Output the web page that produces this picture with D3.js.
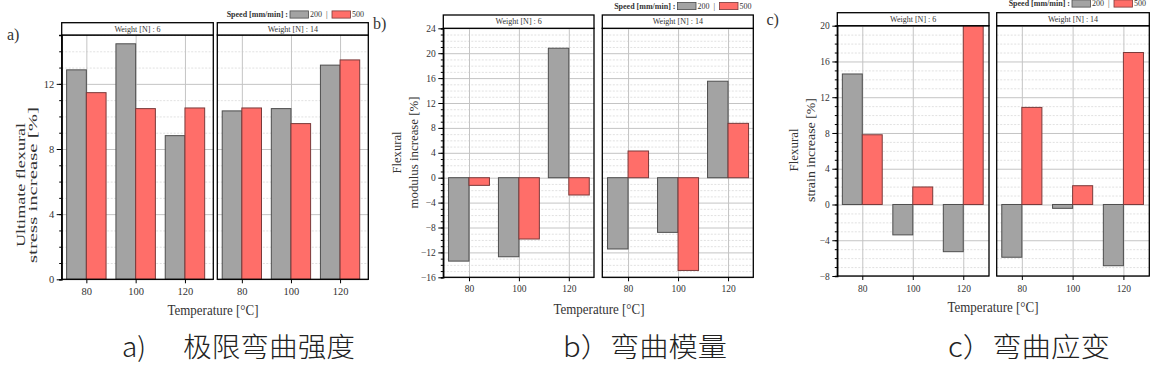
<!DOCTYPE html>
<html>
<head>
<meta charset="utf-8">
<title>Flexural results</title>
<script src="https://cdn.jsdelivr.net/npm/d3@7"></script>
<style>
  body { margin: 0; background: #fff; }
  svg text { font-family: "Liberation Serif", "Times New Roman", serif; fill: #333; }
  .axis path { stroke: #000; stroke-width: 1.3; }
  .axis line { stroke: #000; }
  .axis text { fill: #333; font-family: "Liberation Serif", serif; }
  .major line { stroke: #c4c4c4; stroke-width: 1; }
  .minor line { stroke: #d9d9d9; stroke-width: 0.8; stroke-dasharray: 2,1.5; }
  .caption { font-family: "Noto Sans CJK SC", sans-serif !important; font-weight: 300; fill: #222 !important; }
</style>
</head>
<body>
<script>
// data
var temps = [80, 100, 120];
var weights = ["6", "14"];
var speeds = ["200", "500"];

var stress6_200 = [12.86, 14.46, 8.82];
var stress6_500 = [11.46, 10.48, 10.52];
var stress14_200 = [10.34, 10.48, 13.15];
var stress14_500 = [10.52, 9.56, 13.47];

var modulus6_200 = [-13.4, -12.7, 20.8];
var modulus6_500 = [-1.23, -9.85, -2.78];
var modulus14_200 = [-11.45, -8.78, 15.5];
var modulus14_500 = [4.29, -14.9, 8.73];

var strain6_200 = [14.6, -3.4, -5.28];
var strain6_500 = [7.8, 1.96, 20.0];
var strain14_200 = [-5.9, -0.43, -6.85];
var strain14_500 = [10.86, 2.1, 17.0];

var stressTicks = [0, 4, 8, 12];
var modulusTicks = [-16, -12, -8, -4, 0, 4, 8, 12, 16, 20, 24];
var strainTicks = [-8, -4, 0, 4, 8, 12, 16, 20];

var colors = {"200": "#a3a3a3", "500": "#ff6e69"};
var strokes = {"200": "#4d4d4d", "500": "#7a3a3a"};

var svg = d3.select("body").append("svg")
  .attr("width", 1168).attr("height", 370);

function panel(p) {
  var g = svg.append("g");
  var y = d3.scaleLinear().domain(p.yDomain).range([p.bottom, p.top]);
  var minorVals = d3.range(p.yDomain[0], p.yDomain[1] + 0.001, 1);

  p.facets.forEach(function(f, fi) {
    var x = d3.scaleLinear().domain(p.xDomain).range([f[0], f[1]]);
    var fg = g.append("g");
    var w = f[1] - f[0];

    // minor grid
    fg.append("g").attr("class", "minor")
      .attr("transform", "translate(" + f[0] + ",0)")
      .call(d3.axisLeft(y).tickValues(minorVals.filter(function(v){ return p.yTicks.indexOf(v) < 0; }))
        .tickSize(-w).tickFormat(""))
      .select(".domain").remove();
    // major grid
    fg.append("g").attr("class", "major")
      .attr("transform", "translate(" + f[0] + ",0)")
      .call(d3.axisLeft(y).tickValues(p.yTicks).tickSize(-w).tickFormat(""))
      .select(".domain").remove();
    fg.append("g").attr("class", "major")
      .attr("transform", "translate(0," + p.bottom + ")")
      .call(d3.axisBottom(x).tickValues(temps).tickSize(-(p.bottom - p.top)).tickFormat(""))
      .select(".domain").remove();

    // bars
    var vals = p.series[fi];
    speeds.forEach(function(s, si) {
      fg.selectAll(null).data(vals[si]).enter().append("rect")
        .attr("x", function(d, i){ return si === 0 ? x(temps[i] - p.barW) : x(temps[i]); })
        .attr("width", x(p.xDomain[0] + p.barW) - x(p.xDomain[0]))
        .attr("y", function(d){ return y(Math.max(0, d)); })
        .attr("height", function(d){ return Math.abs(y(d) - y(0)); })
        .attr("fill", colors[s])
        .attr("stroke", strokes[s])
        .attr("stroke-width", 1);
    });

    // x axis
    var xa = fg.append("g").attr("class", "axis")
      .attr("transform", "translate(0," + p.bottom + ")")
      .call(d3.axisBottom(x).tickValues(temps).tickSize(4).tickPadding(p.xPad));
    xa.select(".domain").remove();
    xa.selectAll("text").style("font-size", p.tickFont + "px");

    // frame
    fg.append("rect").attr("x", f[0]).attr("y", p.top).attr("width", w)
      .attr("height", p.bottom - p.top).attr("fill", "none")
      .attr("stroke", "#000").attr("stroke-width", 1.3);
    // strip
    fg.append("rect").attr("x", f[0]).attr("y", p.stripTop).attr("width", w)
      .attr("height", p.top - p.stripTop).attr("fill", "#fff")
      .attr("stroke", "#000").attr("stroke-width", 1.3);
    fg.append("text").attr("x", (f[0] + f[1]) / 2).attr("y", (p.top + p.stripTop) / 2 + 2.8)
      .attr("text-anchor", "middle").style("font-size", "8px")
      .text("Weight [N] : " + weights[fi]);

    if (fi === 0) {
      var ya = fg.append("g").attr("class", "axis")
        .attr("transform", "translate(" + f[0] + ",0)");
      ya.call(d3.axisLeft(y).tickValues(minorVals).tickSize(2.5).tickFormat(""));
      ya.append("g").call(d3.axisLeft(y).tickValues(p.yTicks).tickSize(5).tickPadding(2.5))
        .select(".domain").remove();
      ya.selectAll("text").style("font-size", p.tickFont + "px");
    }
  });

  // y title
  p.yTitle.forEach(function(t, i) {
    g.append("text")
      .attr("transform", "translate(" + p.yTitleX[i] + "," + p.yTitleY + ") rotate(-90)")
      .attr("text-anchor", "middle").attr("dy", "0.35em")
      .style("font-size", "13.5px")
      .attr("textLength", p.yTitleLen[i]).attr("lengthAdjust", "spacingAndGlyphs")
      .text(t);
  });

  // x title
  g.append("text").attr("x", p.xTitle[0]).attr("y", p.xTitle[1])
    .attr("text-anchor", "middle").style("font-size", "14.5px")
    .attr("textLength", 91).attr("lengthAdjust", "spacingAndGlyphs")
    .text("Temperature [\u00B0C]");

  // panel letter
  g.append("text").attr("x", p.letter[0]).attr("y", p.letter[1])
    .style("font-size", "16px").text(p.letter[2]);

  // legend
  var lg = g.append("g").attr("transform", "translate(0," + p.legend[1] + ")");
  var lx = p.legend[0];
  lg.append("text").attr("x", lx).attr("y", 2.8).attr("text-anchor", "end")
    .style("font-size", "8px").style("font-weight", "bold").text("Speed [mm/min] :");
  speeds.forEach(function(s, i) {
    var bx = lx + 2 + i * 42;
    lg.append("rect").attr("x", bx).attr("y", -3.6).attr("width", 18.5).attr("height", 7.2)
      .attr("fill", colors[s]).attr("stroke", strokes[s]).attr("stroke-width", 0.8);
    lg.append("text").attr("x", bx + 20).attr("y", 2.8).style("font-size", "8px").text(s);
    if (i === 0) lg.append("text").attr("x", bx + 36).attr("y", 2.8).style("font-size", "8px").text("|");
  });
}

panel({
  facets: [[61.7, 213.3], [217.3, 368.3]],
  xDomain: [70, 131.5], barW: 8,
  yDomain: [0, 15], yTicks: stressTicks, tickFont: 10.5,
  top: 35, bottom: 279.3, stripTop: 22.7,
  series: [[stress6_200, stress6_500], [stress14_200, stress14_500]],
  yTitle: ["Ultimate flexural", "stress increase [%]"],
  yTitleX: [20, 32], yTitleY: 185, yTitleLen: [124, 156],
  xTitle: [213, 315], xPad: 4,
  letter: [7, 40, "a)"],
  legend: [288, 14.5]
});

panel({
  facets: [[443.3, 594], [602.3, 753.3]],
  xDomain: [69.7, 130.1], barW: 8.2,
  yDomain: [-16, 24], yTicks: modulusTicks, tickFont: 9.5,
  top: 28.3, bottom: 277.3, stripTop: 15,
  series: [[modulus6_200, modulus6_500], [modulus14_200, modulus14_500]],
  yTitle: ["Flexural", "modulus increase [%]"],
  yTitleX: [396.7, 413.3], yTitleY: 152.5, yTitleLen: [42, 112],
  xTitle: [599, 314], xPad: 4,
  letter: [373, 29, "b)"],
  legend: [675.5, 6]
});

panel({
  facets: [[837.3, 989], [996.7, 1149.3]],
  xDomain: [70.1, 130.2], barW: 7.9,
  yDomain: [-8, 20], yTicks: strainTicks, tickFont: 9.5,
  top: 25.7, bottom: 276, stripTop: 12.7,
  series: [[strain6_200, strain6_500], [strain14_200, strain14_500]],
  yTitle: ["Flexural", "strain increase [%]"],
  yTitleX: [793.3, 810], yTitleY: 150, yTitleLen: [43, 104],
  xTitle: [993, 312], xPad: 5,
  letter: [766.5, 25, "c)"],
  legend: [1070, 3.5]
});

// captions
var captions = [
  {x: 122, t: "a)", len: 24},
  {x: 183, t: "极限弯曲强度", len: 172},
  {x: 563, t: "b）弯曲模量", len: 164},
  {x: 948, t: "c）弯曲应变", len: 162}
];
svg.selectAll(".caption").data(captions).enter().append("text")
  .attr("class", "caption")
  .attr("x", function(d){ return d.x; }).attr("y", 357)
  .style("font-size", "27px")
  .attr("textLength", function(d){ return d.len; })
  .attr("lengthAdjust", "spacingAndGlyphs")
  .text(function(d){ return d.t; });
</script>
</body>
</html>
